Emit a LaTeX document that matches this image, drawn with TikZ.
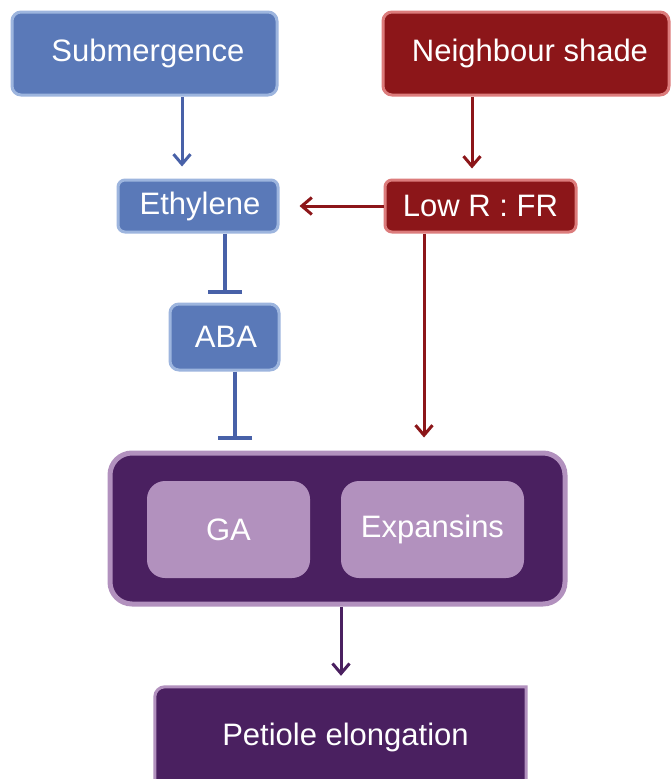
\documentclass[tikz,border=0pt]{standalone}
\usepackage{fontspec}
\setmainfont{Liberation Sans}
\usetikzlibrary{arrows.meta,calc}
\definecolor{bfill}{HTML}{5A79B8}
\definecolor{bline}{HTML}{9DB5DE}
\definecolor{barr}{HTML}{4861A8}
\definecolor{rfill}{HTML}{8C1619}
\definecolor{rline}{HTML}{DC7C7C}
\definecolor{rarr}{HTML}{8C1619}
\definecolor{pdark}{HTML}{4A2060}
\definecolor{plight}{HTML}{B291BE}
\tikzset{
  every node/.style={font=\fontsize{31}{34}\selectfont, text=white, inner sep=0pt},
  bluebox/.style={rectangle, rounded corners=9pt, fill=bfill, draw=bline, line width=3pt},
  redbox/.style={rectangle, rounded corners=9pt, fill=rfill, draw=rline, line width=3pt},
  bigbox/.style={rectangle, rounded corners=22pt, fill=pdark, draw=plight, line width=5pt},
  innerbox/.style={rectangle, rounded corners=18pt, fill=plight, draw=none},
  barrow/.style={draw=barr, line width=3pt, -{Straight Barb[length=10pt,width=17pt,line width=3pt]}},
  rarrow/.style={draw=rarr, line width=3pt, -{Straight Barb[length=10pt,width=17pt,line width=3pt]}},
  parrow/.style={draw=pdark, line width=3pt, -{Straight Barb[length=10pt,width=17pt,line width=3pt]}},
  inhib/.style={draw=barr, line width=4pt, -{Bar[width=34pt,line width=4pt]}},
}
\begin{document}
\begin{tikzpicture}[x=1pt,y=-1pt]
\clip (0,0) rectangle (671,779);
\fill[white] (0,0) rectangle (671,779);
\node[bluebox, minimum width=265pt, minimum height=83pt] (sub) at (144.5,53.5) {\hspace{7pt}Submergence};
\node[redbox, minimum width=286pt, minimum height=83pt] (ns) at (526,53.5) {\hspace{8pt}Neighbour shade};
\node[bluebox, rounded corners=7pt, minimum width=160pt, minimum height=52pt] (eth) at (198,206) {\hspace{4pt}Ethylene};
\node[redbox, rounded corners=7pt, minimum width=191pt, minimum height=52pt] (low) at (480.5,206) {Low R : FR};
\node[bluebox, minimum width=109pt, minimum height=66pt] (aba) at (224.5,337) {\hspace{3pt}ABA};
\node[bigbox, minimum width=455pt, minimum height=151pt] (big) at (337.5,528.5) {};
\node[innerbox, minimum width=163pt, minimum height=97pt] (ga) at (228.5,529.5) {GA};
\node[innerbox, minimum width=183pt, minimum height=97pt] (exp) at (432.5,529.5) {Expansins};
\node[minimum width=371pt, minimum height=100pt] (pet) at (340.5,737) {};
\fill[pdark] ($(pet.south west)+(0,60)$) [rounded corners=10pt] -- (pet.north west) [sharp corners] -- (pet.north east) -- ($(pet.south east)+(0,60)$) -- cycle;
\draw[plight, line width=3pt] ($(pet.south west)+(0,60)$) [rounded corners=10pt] -- (pet.north west) [sharp corners] -- (pet.north east) -- ($(pet.south east)+(0,60)$);
\node at ($(pet.center)+(5,0)$) {Petiole elongation};
\coordinate (xa) at (182,0);
\coordinate (xb) at (472,0);
\coordinate (xc) at (225,0);
\coordinate (xd) at (235,0);
\coordinate (xe) at (424,0);
\coordinate (xf) at (341,0);
\draw[barrow, shorten >=12pt] (sub.south -| xa) -- (eth.north -| xa);
\draw[rarrow, shorten >=10pt] (ns.south -| xb) -- (low.north -| xb);
\draw[rarrow, shorten >=20pt] (low.west) -- (eth.east);
\draw[inhib, shorten >=9pt] (eth.south -| xc) -- (aba.north -| xc);
\draw[inhib, shorten >=11pt] (aba.south -| xd) -- (big.north -| xd);
\draw[rarrow, shorten >=13pt] (low.south -| xe) -- (big.north -| xe);
\draw[parrow, shorten >=11pt] (big.south -| xf) -- (pet.north -| xf);
\end{tikzpicture}
\end{document}
